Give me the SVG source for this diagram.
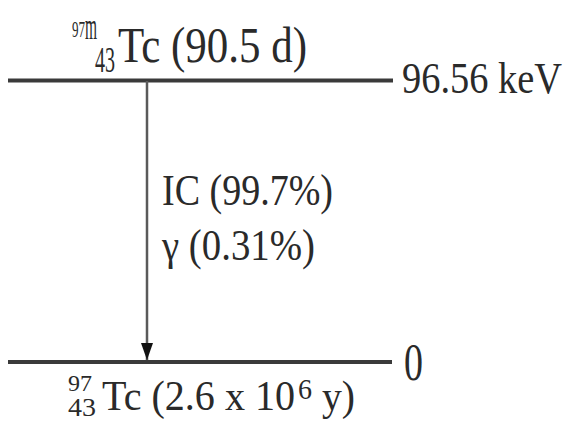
<svg xmlns="http://www.w3.org/2000/svg" width="569" height="421" viewBox="0 0 569 421">
<style>
text { font-family: "Liberation Serif", "Times New Roman", serif; fill: #2a2a2a; }
.level { stroke: #3a3a3a; stroke-width: 4; fill: none; }
.trans { stroke: #5a5a5a; stroke-width: 2.5; fill: none; }
</style>
<defs>
<marker id="arr" viewBox="0 0 17 12" refX="17" refY="6" markerWidth="17" markerHeight="12" markerUnits="userSpaceOnUse" orient="auto">
<path d="M0,0 L17,6 L0,12 Z" fill="#111"/>
</marker>
</defs>
<rect width="569" height="421" fill="#fff"/>
<g id="level-upper">
<line class="level" x1="8" y1="80.5" x2="393" y2="80.5"/>
<text x="72" y="37" font-size="24" textLength="13" lengthAdjust="spacingAndGlyphs">97</text>
<text x="85" y="39" font-size="38" textLength="12" lengthAdjust="spacingAndGlyphs">m</text>
<text x="95" y="72" font-size="36" textLength="20" lengthAdjust="spacingAndGlyphs">43</text>
<text x="118" y="62" font-size="50" textLength="189" lengthAdjust="spacingAndGlyphs">Tc (90.5 d)</text>
<text x="402" y="93" font-size="44" textLength="160" lengthAdjust="spacingAndGlyphs">96.56 keV</text>
</g>
<g id="level-ground">
<line class="level" x1="8" y1="362" x2="392" y2="362"/>
<text x="404" y="380" font-size="52" textLength="19" lengthAdjust="spacingAndGlyphs">0</text>
<text x="68" y="391" font-size="24" textLength="24" lengthAdjust="spacingAndGlyphs">97</text>
<text x="68" y="416" font-size="26" textLength="28" lengthAdjust="spacingAndGlyphs">43</text>
<text x="102" y="410" font-size="42" textLength="193" lengthAdjust="spacingAndGlyphs">Tc (2.6 x 10</text>
<text x="298" y="399" font-size="30" textLength="14" lengthAdjust="spacingAndGlyphs">6</text>
<text x="322" y="410" font-size="42" textLength="33" lengthAdjust="spacingAndGlyphs">y)</text>
</g>
<g id="connectors">
<line class="trans" x1="147" y1="81" x2="147" y2="360" marker-end="url(#arr)"/>
<text x="162" y="205" font-size="45" textLength="171" lengthAdjust="spacingAndGlyphs">IC (99.7%)</text>
<text x="162" y="260" font-size="45" textLength="153" lengthAdjust="spacingAndGlyphs">γ (0.31%)</text>
</g>
</svg>
